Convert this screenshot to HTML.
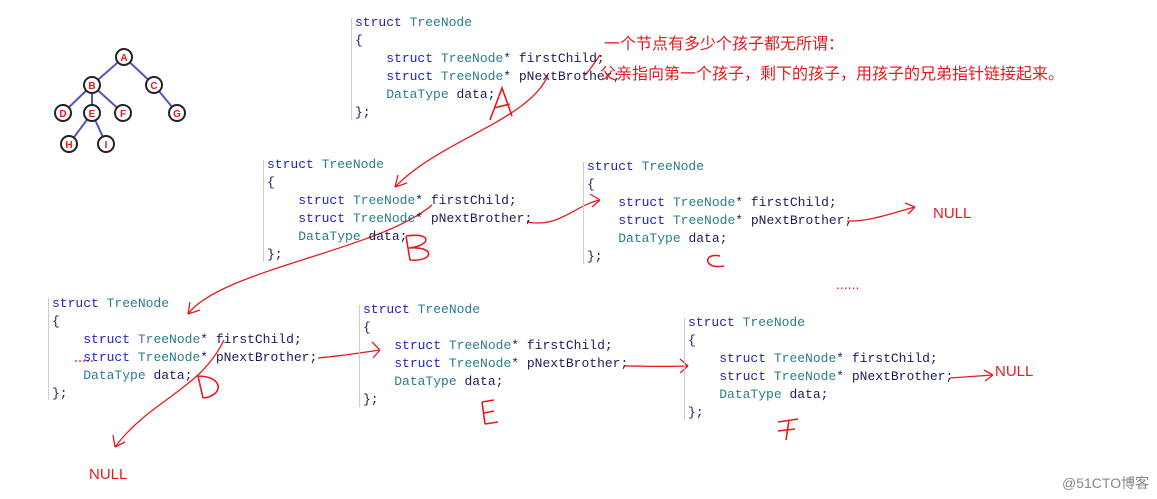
<!DOCTYPE html>
<html><head><meta charset="utf-8"><style>
body{margin:0;width:1157px;height:499px;background:#fff;position:relative;overflow:hidden;font-family:"Liberation Mono",monospace;}
.l{position:absolute;font-size:13px;line-height:18px;white-space:pre;color:#1b1b5e;}
.k{color:#2323c8}.t{color:#2b7d8e}
.bar{position:absolute;width:1px;background:#ccc}
.r{position:absolute;color:#e8191e;font-family:"Liberation Sans","Noto Sans CJK SC",sans-serif;white-space:nowrap}
svg{position:absolute;left:0;top:0}
</style></head><body>
<svg width="1157" height="499">
<g stroke="#5555bb" stroke-width="2">
<line x1="124" y1="57" x2="92" y2="85"/><line x1="124" y1="57" x2="154" y2="85"/>
<line x1="92" y1="85" x2="63" y2="113"/><line x1="92" y1="85" x2="92" y2="113"/><line x1="92" y1="85" x2="123" y2="113"/>
<line x1="154" y1="85" x2="177" y2="113"/>
<line x1="92" y1="113" x2="69" y2="144"/><line x1="92" y1="113" x2="106" y2="144"/>
</g>
<g fill="#fff" stroke="#222" stroke-width="2">
<circle cx="124" cy="57" r="8"/><circle cx="92" cy="85" r="8"/><circle cx="154" cy="85" r="8"/>
<circle cx="63" cy="113" r="8"/><circle cx="92" cy="113" r="8"/><circle cx="123" cy="113" r="8"/><circle cx="177" cy="113" r="8"/>
<circle cx="69" cy="144" r="8"/><circle cx="106" cy="144" r="8"/>
</g>
<g fill="#e8191e" font-family="Liberation Sans,sans-serif" font-weight="bold" font-size="10" text-anchor="middle">
<text x="124" y="61">A</text><text x="92" y="89">B</text><text x="154" y="89">C</text><text x="63" y="117">D</text><text x="92" y="117">E</text><text x="123" y="117">F</text><text x="177" y="117">G</text><text x="69" y="148">H</text><text x="106" y="148">I</text>
</g>
<g stroke="#e8191e" stroke-width="1.3" fill="none">
<path d="M548,75 C530,120 440,140 395,187"/><path d="M395,187 l3,-12 M395,187 l12,-4"/>
<path d="M600,55 C595,62 590,70 585,75"/>
<path d="M527,222 C560,228 575,205 600,200"/><path d="M600,200 l-10,-6 M600,200 l-8,7"/>
<path d="M847,221 C870,222 895,212 915,207"/><path d="M915,207 l-10,-4 M915,207 l-7,7"/>
<path d="M432,205 C380,250 220,270 188,314"/><path d="M188,314 l2,-12 M188,314 l12,-4"/>
<path d="M318,358 C340,356 360,353 380,350"/><path d="M380,350 l-8,-8 M380,350 l-7,8"/>
<path d="M625,366 C645,366 665,367 688,366"/><path d="M688,366 l-8,-7 M688,366 l-8,7"/>
<path d="M950,378 C965,377 978,376 993,375"/><path d="M993,375 l-9,-5 M993,375 l-8,6"/>
<path d="M224,340 C200,390 150,400 115,447"/><path d="M115,447 l-2,-12 M115,447 l10,-5"/>
<path d="M75,361 h18" stroke-dasharray="2,2"/>
</g>
<g stroke="#e8191e" stroke-width="1.6" fill="none">
<path d="M490,120 L502,88 L512,116 M494,108 L510,104"/>
<path d="M406,236 L410,260 M406,236 C434,232 430,246 409,248 C436,246 434,262 410,260"/>
<path d="M720,256 C703,252 703,270 724,266"/>
<path d="M198,376 L203,398 M198,376 C224,376 224,396 203,398"/>
<path d="M482,402 L494,400 M482,402 L485,424 M484,413 L494,411 M485,424 L498,422"/>
<path d="M778,422 L798,419 M789,420 L786,440 M778,431 L795,429"/>
</g>
</svg>
<div class="bar" style="left:351px;top:18px;height:102px"></div>
<div class="l" style="left:355px;top:14px"><span class="k">struct</span> <span class="t">TreeNode</span>
{
    <span class="k">struct</span> <span class="t">TreeNode</span>* firstChild;
    <span class="k">struct</span> <span class="t">TreeNode</span>* pNextBrother;
    <span class="t">DataType</span> data;
};</div>
<div class="bar" style="left:263px;top:160px;height:102px"></div>
<div class="l" style="left:267px;top:156px"><span class="k">struct</span> <span class="t">TreeNode</span>
{
    <span class="k">struct</span> <span class="t">TreeNode</span>* firstChild;
    <span class="k">struct</span> <span class="t">TreeNode</span>* pNextBrother;
    <span class="t">DataType</span> data;
};</div>
<div class="bar" style="left:583px;top:162px;height:102px"></div>
<div class="l" style="left:587px;top:158px"><span class="k">struct</span> <span class="t">TreeNode</span>
{
    <span class="k">struct</span> <span class="t">TreeNode</span>* firstChild;
    <span class="k">struct</span> <span class="t">TreeNode</span>* pNextBrother;
    <span class="t">DataType</span> data;
};</div>
<div class="bar" style="left:48px;top:298px;height:102px"></div>
<div class="l" style="left:52px;top:295px"><span class="k">struct</span> <span class="t">TreeNode</span>
{
    <span class="k">struct</span> <span class="t">TreeNode</span>* firstChild;
    <span class="k">struct</span> <span class="t">TreeNode</span>* pNextBrother;
    <span class="t">DataType</span> data;
};</div>
<div class="bar" style="left:359px;top:305px;height:102px"></div>
<div class="l" style="left:363px;top:301px"><span class="k">struct</span> <span class="t">TreeNode</span>
{
    <span class="k">struct</span> <span class="t">TreeNode</span>* firstChild;
    <span class="k">struct</span> <span class="t">TreeNode</span>* pNextBrother;
    <span class="t">DataType</span> data;
};</div>
<div class="bar" style="left:684px;top:318px;height:102px"></div>
<div class="l" style="left:688px;top:314px"><span class="k">struct</span> <span class="t">TreeNode</span>
{
    <span class="k">struct</span> <span class="t">TreeNode</span>* firstChild;
    <span class="k">struct</span> <span class="t">TreeNode</span>* pNextBrother;
    <span class="t">DataType</span> data;
};</div>
<div class="r" style="left:604px;top:30px;font-size:16px">一个节点有多少个孩子都无所谓：</div>
<div class="r" style="left:600px;top:60px;font-size:16px">父亲指向第一个孩子，剩下的孩子，用孩子的兄弟指针链接起来。</div>
<div class="r" style="left:933px;top:205px;font-size:15px">NULL</div>
<div class="r" style="left:995px;top:363px;font-size:15px">NULL</div>
<div class="r" style="left:89px;top:466px;font-size:15px">NULL</div>
<div class="r" style="left:836px;top:276px;font-size:14px">......</div>
<div class="r" style="left:1062px;top:473px;font-size:14px;color:#888">@51CTO博客</div>
</body></html>
